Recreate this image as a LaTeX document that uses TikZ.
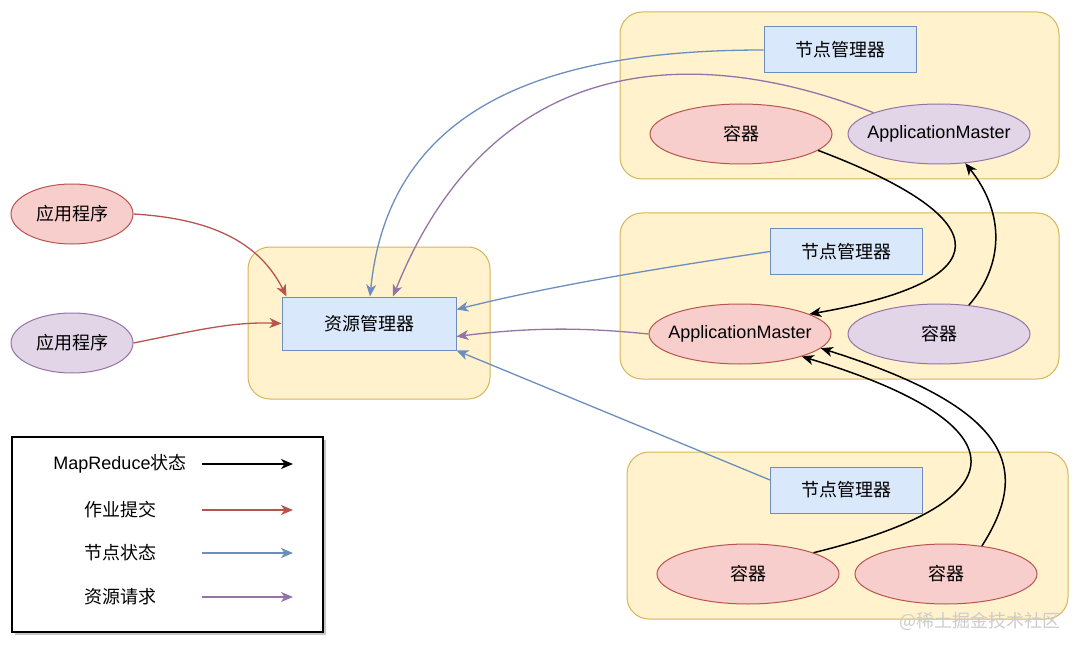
\documentclass[tikz,border=0pt]{standalone}
\usepackage{fontspec}
\setmainfont{Liberation Sans}
\newfontfamily\cjk{Noto Sans CJK SC}
\usetikzlibrary{arrows.meta,shapes.geometric,shadows}
\definecolor{grpfill}{HTML}{FFF2CC}
\definecolor{grpdraw}{HTML}{D6B656}
\definecolor{mgrfill}{HTML}{DAE8FC}
\definecolor{mgrdraw}{HTML}{6C8EBF}
\definecolor{redfill}{HTML}{F8CECC}
\definecolor{reddraw}{HTML}{B85450}
\definecolor{purfill}{HTML}{E1D5E7}
\definecolor{purdraw}{HTML}{9673A6}

\begin{document}
\begin{tikzpicture}[x=1pt,y=-1pt,font=\fontsize{18}{22}\selectfont,
   >={Stealth[length=12pt,width=10pt,inset=3.5pt]}]
   \useasboundingbox (0,0) rectangle (1080,650);
   \tikzstyle{group}=[draw=grpdraw, fill=grpfill, rounded corners=22pt, line width=1pt]
   \tikzstyle{mgr}=[rectangle, draw=mgrdraw, fill=mgrfill, line width=1pt, minimum width=152pt, minimum height=46pt]
   \tikzstyle{redell}=[ellipse, draw=reddraw, fill=redfill, line width=1pt, inner sep=0pt, minimum width=182pt, minimum height=60pt]
   \tikzstyle{purell}=[ellipse, draw=purdraw, fill=purfill, line width=1pt, inner sep=0pt, minimum width=182pt, minimum height=60pt]
   \tikzstyle{mr}=[->, black, line width=1.5pt]
   \tikzstyle{job}=[->, reddraw, line width=1.3pt]
   \tikzstyle{nstate}=[->, mgrdraw, line width=1.3pt]
   \tikzstyle{req}=[->, purdraw, line width=1.3pt]
   % groups
   \node[group, minimum width=242pt, minimum height=152pt] (grpRM) at (369,323) {};
   \node[group, minimum width=439pt, minimum height=167pt] (grpA) at (839.5,95.5) {};
   \node[group, minimum width=439pt, minimum height=166pt] (grpB) at (839.5,296) {};
   \node[group, minimum width=441pt, minimum height=167pt] (grpC) at (847.5,535.5) {};
   % clients and resource manager
   \node[redell, minimum width=122pt] (app1) at (72,214) {\cjk 应用程序};
   \node[purell, minimum width=122pt] (app2) at (72,343) {\cjk 应用程序};
   \node[mgr, minimum width=174pt, minimum height=53pt] (rm) at (369,323.5) {\cjk 资源管理器};
   % node managers
   \node[mgr] (nmA) at (840,50) {\cjk 节点管理器};
   \node[mgr] (nmB) at (846.5,251.5) {\cjk 节点管理器};
   \node[mgr] (nmC) at (846.5,490) {\cjk 节点管理器};
   % containers and masters
   \node[redell] (cA) at (741,134) {\cjk 容器};
   \node[purell] (amA) at (939,134) {\makebox[0pt]{ApplicationMaster}};
   \node[redell] (amB) at (740,334) {\makebox[0pt]{ApplicationMaster}};
   \node[purell] (cB) at (939,334) {\cjk 容器};
   \node[redell] (cC) at (748,574) {\cjk 容器};
   \node[redell] (cD) at (946,574) {\cjk 容器};
   % job submission
   \draw[job] (app1.east) .. controls +(85,5) and +(-25,-50) .. ([xshift=5pt]rm.north west);
   \draw[job] (app2.east) .. controls +(60,-12) and +(-50,-2) .. (rm.west);
   % node state
   \draw[nstate] (nmA.west) .. controls +(-200,0) and +(20,-200) .. ([xshift=1pt]rm.north);
   \draw[nstate] (nmB.west) .. controls +(-100,15) and +(100,-25) .. ([yshift=14pt]rm.east);
   \draw[nstate] ([yshift=10pt]nmC.west) -- (rm.south east);
   % resource requests
   \draw[req] (amA.162) .. controls +(-152,-60) and +(107,-265) .. ([xshift=24pt]rm.north);
   \draw[req] (amB.west) .. controls +(-60,-6) and +(80,-10) .. ([yshift=-13pt]rm.east);
   % mapreduce state
   \draw[mr] (cA.-12) .. controls +(185,70) and +(190,-33) .. (amB.16);
   \draw[mr] (cB.44) .. controls +(35,-40) and +(40,50) .. (amA.-48);
   \draw[mr] (cC.18) .. controls +(217,-53) and +(216,65) .. (amB.-20);
   \draw[mr] (cD.38) .. controls +(50,-78) and +(190,60) .. (amB.-10);
   % legend
   \node[draw=black, fill=white, line width=1.5pt, minimum width=311pt, minimum height=195pt,
      drop shadow={shadow xshift=3pt, shadow yshift=-3pt, fill=gray!45, opacity=1}] (legend) at (167.5,534.5) {};
   \foreach \i/\y/\kind/\txt in {1/464/mr/{MapReduce\cjk 状态},2/510/job/{\cjk 作业提交},3/553/nstate/{\cjk 节点状态},4/597/req/{\cjk 资源请求}} {
       \node (lt\i) at (120,\y) {\txt};
       \coordinate (ls\i) at (202,\y);
       \coordinate (le\i) at (293,\y);
       \draw[\kind] (ls\i) -- (le\i);
   }
   \node[text=gray!40] (mark) at (980,621) {\cjk @稀土掘金技术社区};
\end{tikzpicture}
\end{document}
